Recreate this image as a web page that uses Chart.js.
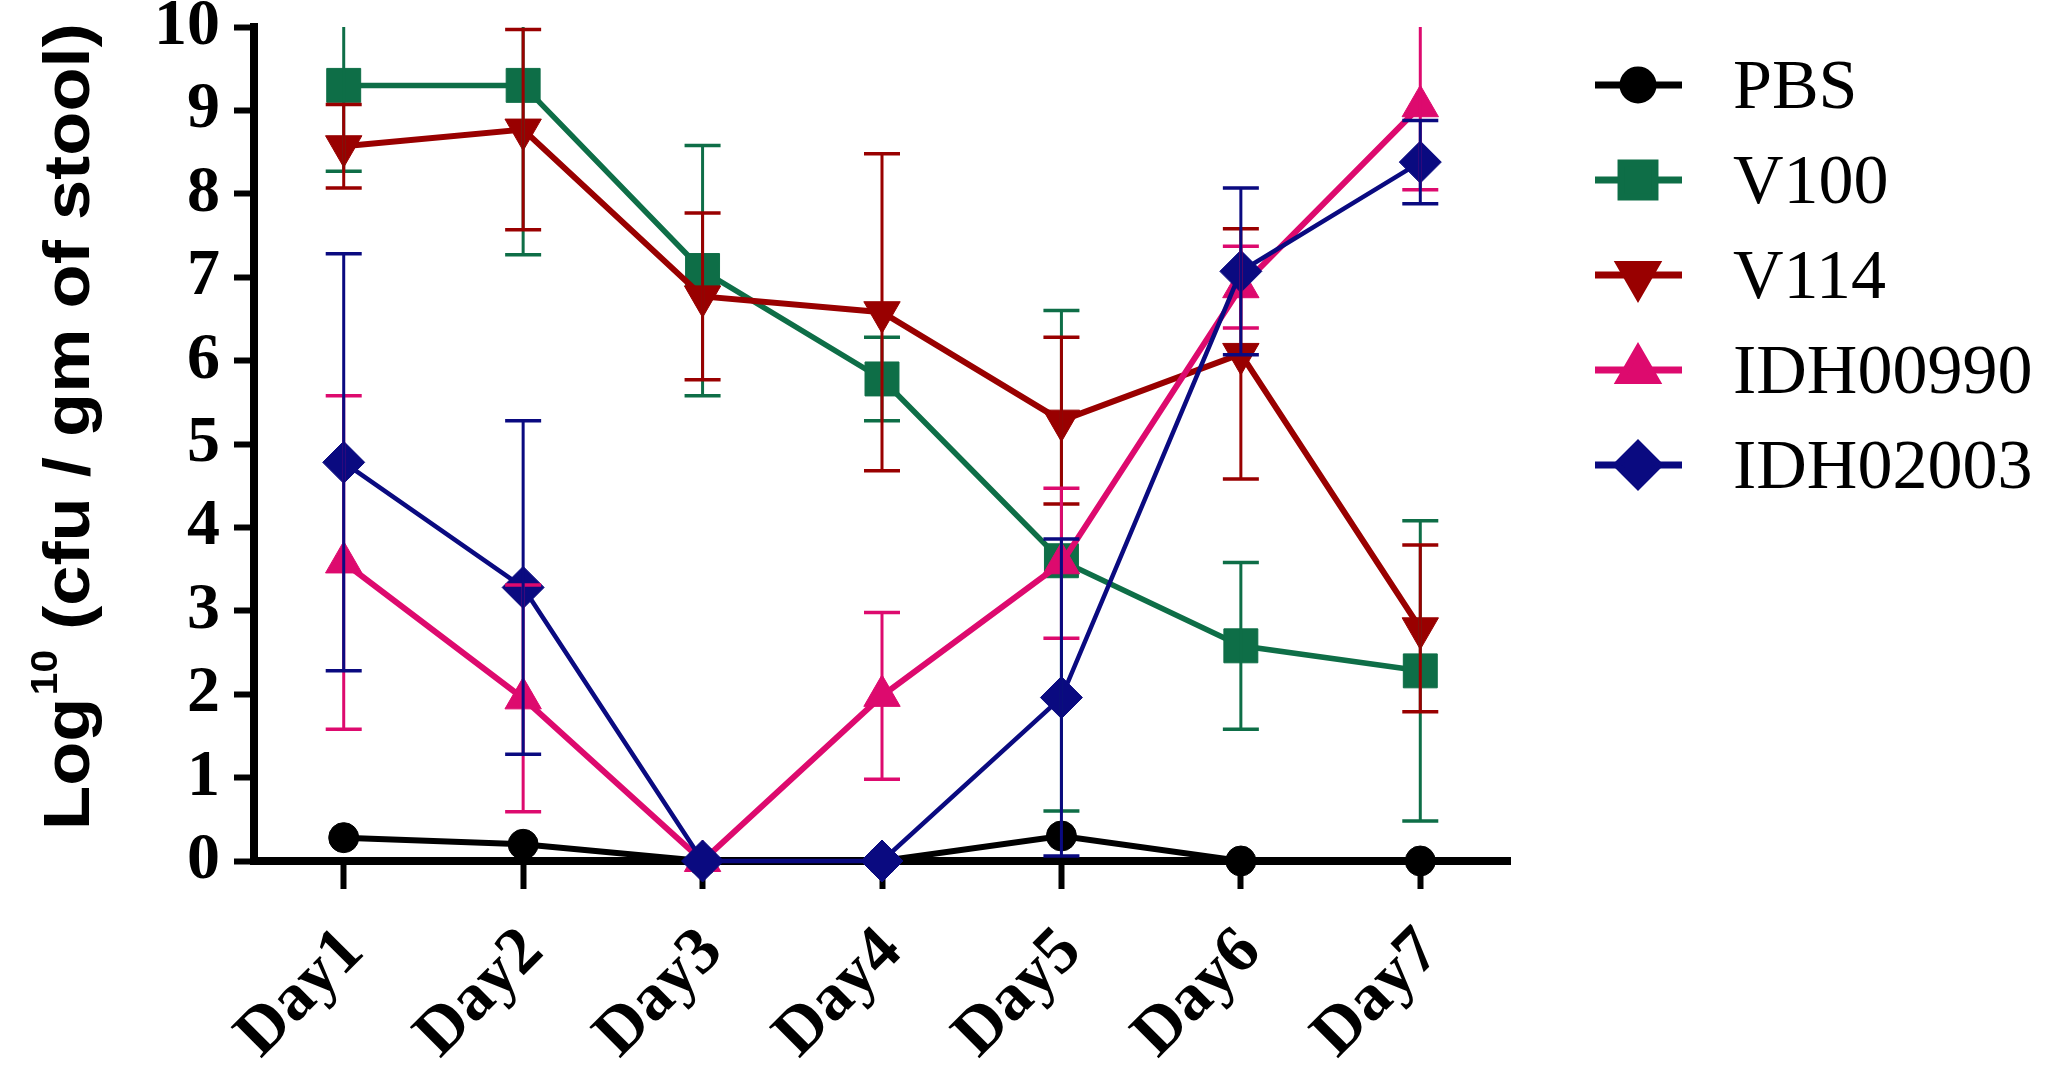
<!DOCTYPE html>
<html>
<head>
<meta charset="utf-8">
<script src="https://cdn.jsdelivr.net/npm/chart.js@4.4.0/dist/chart.umd.min.js"></script>
<style>
html,body{margin:0;padding:0;background:#ffffff;overflow:hidden;}
#wrap{width:2049px;height:1065px;position:relative;}
canvas{display:block;}
</style>
</head>
<body>
<div id="wrap"><canvas id="c" width="2049" height="1065"></canvas></div>
<script>
// ---- data ----
const categories = ['Day1', 'Day2', 'Day3', 'Day4', 'Day5', 'Day6', 'Day7'];
const seriesNames = ['PBS', 'V100', 'V114', 'IDH00990', 'IDH02003'];
const yTicks = [0, 1, 2, 3, 4, 5, 6, 7, 8, 9, 10];

const pbsValues      = [0.28, 0.20, 0.00, 0.00, 0.30, 0.00, 0.00];
const pbsErrors      = [0, 0, 0, 0, 0, 0, 0];
const v100Values     = [9.30, 9.30, 7.08, 5.78, 3.60, 2.58, 2.28];
const v100Errors     = [1.03, 2.03, 1.50, 0.50, 3.00, 1.00, 1.80];
const v114Values     = [8.57, 8.77, 6.77, 6.58, 5.28, 6.08, 2.79];
const v114Errors     = [0.50, 1.20, 1.00, 1.90, 1.00, 1.50, 1.00];
const idh00990Values = [3.58, 1.95, 0.00, 1.98, 3.57, 6.88, 9.05];
const idh00990Errors = [2.00, 1.36, 0.00, 1.00, 0.90, 0.49, 1.00];
const idh02003Values = [4.78, 3.28, 0.00, 0.00, 1.96, 7.07, 8.38];
const idh02003Errors = [2.50, 2.00, 0.00, 0.00, 1.90, 1.00, 0.50];

const allValues = [pbsValues, v100Values, v114Values, idh00990Values, idh02003Values];
const allErrors = [pbsErrors, v100Errors, v114Errors, idh00990Errors, idh02003Errors];

// ---- styles ----
const colors      = ['#000000', '#0E6E47', '#990000', '#DD0A6E', '#0A0A80'];
const pStyles     = ['circle', 'rect', 'triangle', 'triangle', 'rectRot'];
const pRotations  = [0, 0, 180, 0, 0];
const pRadii      = [15, 24, 21, 21, 21];
const lineWidths  = [6, 5.5, 6, 6, 4.5];

const datasets = seriesNames.map((name, i) => ({
  label: name,
  data: allValues[i],
  borderColor: colors[i],
  backgroundColor: colors[i],
  borderWidth: lineWidths[i],
  pointStyle: pStyles[i],
  pointRotation: pRotations[i],
  pointRadius: pRadii[i],
  pointHoverRadius: pRadii[i],
  pointBackgroundColor: colors[i],
  pointBorderColor: colors[i],
  pointBorderWidth: 1,
  tension: 0,
  fill: false,
  clip: false,
  order: seriesNames.length - i
}));

const errorBarPlugin = {
  id: 'errorBars',
  afterDatasetsDraw(chart) {
    const ctx = chart.ctx;
    const xs = chart.scales.x, ys = chart.scales.y;
    const area = chart.chartArea;
    ctx.save();
    ctx.beginPath();
    ctx.rect(0, area.top, chart.width, chart.height - area.top);
    ctx.clip();
    for (let i = 0; i < allValues.length; i++) {
      ctx.strokeStyle = colors[i];
      ctx.lineCap = 'butt';
      for (let j = 0; j < allValues[i].length; j++) {
        const e = allErrors[i][j];
        if (!e) continue;
        const v = allValues[i][j];
        const x = xs.getPixelForValue(j);
        const yHi = ys.getPixelForValue(v + e);
        const yLo = ys.getPixelForValue(v - e);
        ctx.lineWidth = 3;
        ctx.beginPath();
        ctx.moveTo(x, yHi); ctx.lineTo(x, yLo);
        ctx.stroke();
        ctx.lineWidth = 3.5;
        ctx.beginPath();
        ctx.moveTo(x - 18, yHi); ctx.lineTo(x + 18, yHi);
        ctx.moveTo(x - 18, yLo); ctx.lineTo(x + 18, yLo);
        ctx.stroke();
      }
    }
    ctx.restore();
  }
};

const legendPlugin = {
  id: 'customLegend',
  afterDraw(chart) {
    const ctx = chart.ctx;
    ctx.save();
    for (let i = 0; i < seriesNames.length; i++) {
      const yc = 85 + 95 * i;
      ctx.strokeStyle = colors[i];
      ctx.lineWidth = 7;
      ctx.beginPath();
      ctx.moveTo(1595, yc); ctx.lineTo(1682, yc);
      ctx.stroke();
      ctx.fillStyle = colors[i];
      Chart.helpers.drawPoint(ctx, {
        pointStyle: pStyles[i], radius: pRadii[i], rotation: pRotations[i], borderWidth: 1
      }, 1638, yc);
      ctx.fillStyle = '#000000';
      ctx.font = '70px "Liberation Serif", "Times New Roman", serif';
      ctx.textAlign = 'left';
      ctx.textBaseline = 'alphabetic';
      ctx.fillText(seriesNames[i], 1733, yc + 23);
    }
    ctx.restore();
  }
};

const yTitlePlugin = {
  id: 'yTitle',
  afterDraw(chart) {
    const ctx = chart.ctx;
    ctx.save();
    ctx.translate(89, 830);
    ctx.rotate(-Math.PI / 2);
    ctx.scale(1.13, 1);
    ctx.fillStyle = '#000000';
    ctx.textAlign = 'left';
    ctx.textBaseline = 'alphabetic';
    const mainFont = 'bold 64px "Liberation Sans", Arial, sans-serif';
    const supFont = 'bold 36px "Liberation Sans", Arial, sans-serif';
    ctx.font = mainFont;
    let x = 0;
    ctx.fillText('Log', x, 0);
    x += ctx.measureText('Log').width + 2;
    ctx.font = supFont;
    ctx.fillText('10', x, -32);
    x += ctx.measureText('10').width;
    ctx.font = mainFont;
    ctx.fillText(' (cfu / gm of stool)', x, 0);
    ctx.restore();
  }
};

Chart.defaults.color = '#000000';

new Chart(document.getElementById('c'), {
  type: 'line',
  data: { labels: categories, datasets: datasets },
  options: {
    responsive: false,
    devicePixelRatio: 1,
    animation: false,
    events: [],
    layout: { padding: { left: 0, top: 27, right: 539, bottom: 0 } },
    plugins: {
      legend: { display: false },
      tooltip: { enabled: false },
      title: { display: false }
    },
    scales: {
      x: {
        type: 'category',
        offset: true,
        grid: {
          display: true,
          drawOnChartArea: false,
          drawTicks: true,
          tickLength: 28,
          tickWidth: 6,
          tickColor: '#000000',
          offset: false
        },
        border: { display: true, color: '#000000', width: 8 },
        ticks: {
          autoSkip: false,
          minRotation: 45,
          maxRotation: 45,
          padding: 24,
          labelOffset: 10,
          color: '#000000',
          font: { family: '"Liberation Serif", "Times New Roman", serif', size: 67, weight: 'bold' }
        },
        afterFit(scale) {
          scale.height = 204;
          scale.paddingLeft = 0; scale.paddingRight = 0;
        }
      },
      y: {
        type: 'linear',
        min: 0,
        max: 10,
        afterBuildTicks(scale) {
          scale.ticks = yTicks.map(v => ({ value: v }));
        },
        grid: {
          display: true,
          drawOnChartArea: false,
          drawTicks: true,
          tickLength: 20,
          tickWidth: 6,
          tickColor: '#000000'
        },
        border: { display: true, color: '#000000', width: 8 },
        ticks: {
          padding: 14,
          color: '#000000',
          font: { family: '"Liberation Serif", "Times New Roman", serif', size: 66, weight: 'bold' }
        },
        afterFit(scale) {
          scale.width = 254;
          scale.paddingTop = 0; scale.paddingBottom = 0;
        }
      }
    }
  },
  plugins: [errorBarPlugin, legendPlugin, yTitlePlugin]
});
</script>
</body>
</html>
